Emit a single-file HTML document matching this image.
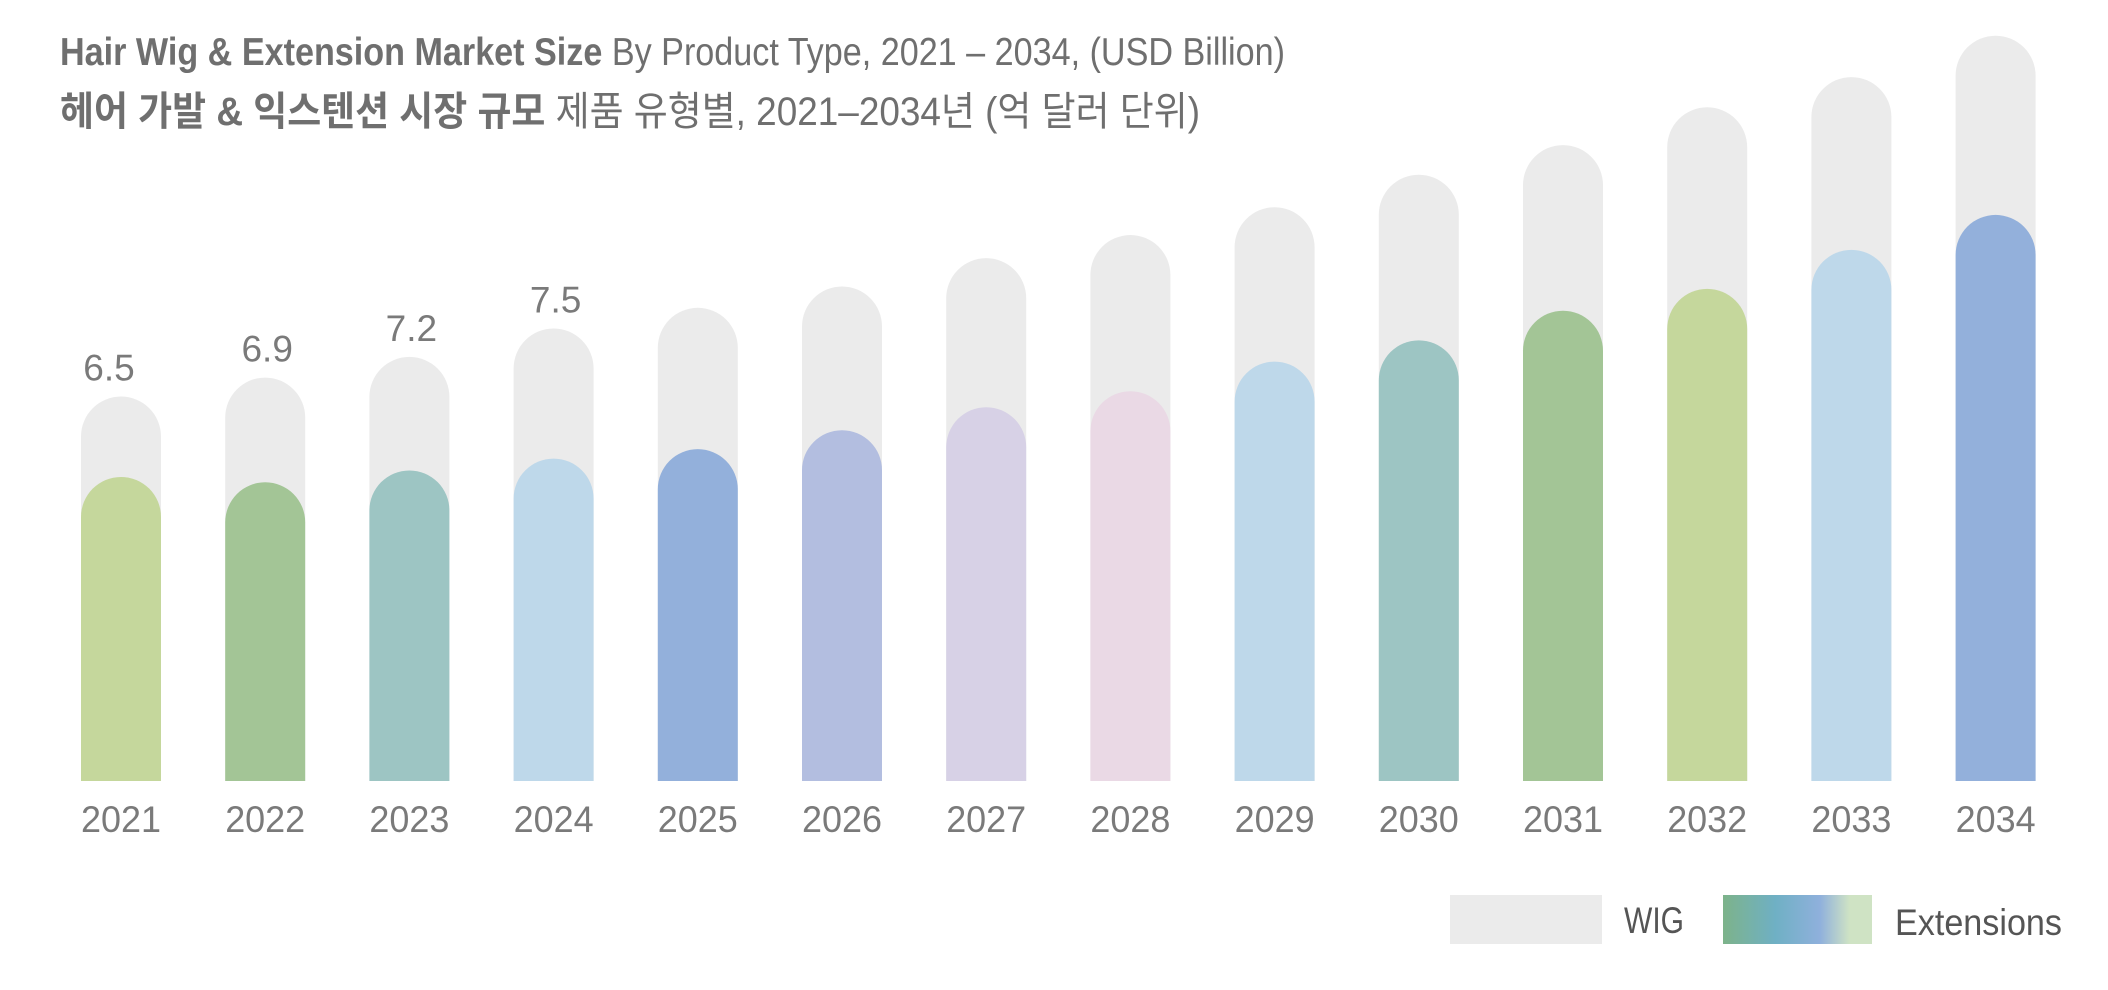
<!DOCTYPE html>
<html><head><meta charset="utf-8"><style>
html,body{margin:0;padding:0;background:#fff;}
svg{display:block;}
text{font-family:"Liberation Sans","Noto Sans CJK KR",sans-serif;}
</style></head><body>
<svg id="chart" width="2108" height="990" viewBox="0 0 2108 990" xmlns="http://www.w3.org/2000/svg">
<defs>
<linearGradient id="extGrad" x1="0" x2="1" y1="0" y2="0">
<stop offset="0" stop-color="#7db38a"/><stop offset="0.35" stop-color="#6fb0c4"/><stop offset="0.65" stop-color="#8fb0dc"/><stop offset="0.85" stop-color="#cfe3c4"/><stop offset="1" stop-color="#cfe3c4"/>
</linearGradient>
</defs>
<text x="60" y="65" font-size="39" fill="#6f6f6f" textLength="1225" lengthAdjust="spacingAndGlyphs"><tspan font-weight="bold">Hair Wig &amp; Extension Market Size</tspan> By Product Type, 2021 – 2034, (USD Billion)</text>
<text x="60" y="125" font-size="40" fill="#6f6f6f" textLength="1140" lengthAdjust="spacingAndGlyphs"><tspan font-weight="bold">헤어 가발 &amp; 익스텐션 시장 규모</tspan> 제품 유형별, 2021–2034년 (억 달러 단위)</text>
<g id="bars"></g>
<g>
<rect x="1450" y="895" width="152" height="49" fill="#ebebeb"/>
<text x="1624" y="933" font-size="37" fill="#555" textLength="60" lengthAdjust="spacingAndGlyphs">WIG</text>
<rect x="1723" y="895" width="149" height="49" fill="url(#extGrad)"/>
<text x="1895" y="935" font-size="37" fill="#555" textLength="167" lengthAdjust="spacingAndGlyphs">Extensions</text>
</g>
</svg>
<script>
const years = ["2021","2022","2023","2024","2025","2026","2027","2028","2029","2030","2031","2032","2033","2034"];
const totalValues = [6.5,6.82,7.17,7.65,8.0,8.36,8.84,9.23,9.7,10.25,10.75,11.39,11.9,12.6];
const extensionValues = [5.14,5.05,5.25,5.45,5.61,5.93,6.32,6.59,7.09,7.45,7.95,8.32,8.98,9.57];
const printedLabels = ["6.5","6.9","7.2","7.5","","","","","","","","","",""];
const extColors = ["#c5d79c","#a3c596","#9dc5c3","#bed8ea","#93b0db","#b3bee0","#d7d1e6","#ead9e5","#bed8ea","#9dc5c3","#a3c596","#c5d79c","#bed8ea","#93b0db"];

const NS = "http://www.w3.org/2000/svg";
const baseY = 781, pxPerUnit = 59.15, x0 = 121, step = 144.2, bw = 80;
const xScale = i => x0 + i * step;
const yScale = v => baseY - v * pxPerUnit;
const g = document.getElementById('bars');
function capPath(cx, top){
  const r = bw/2, l = cx - r, rr = cx + r;
  return `M${l},${baseY} L${l},${top + r} A${r},${r} 0 0 1 ${rr},${top + r} L${rr},${baseY} Z`;
}
years.forEach((yr, i) => {
  const cx = xScale(i);
  const w = document.createElementNS(NS, 'path');
  w.setAttribute('d', capPath(cx, yScale(totalValues[i])));
  w.setAttribute('fill', '#ebebeb');
  
  
  g.appendChild(w);
  const e = document.createElementNS(NS, 'path');
  e.setAttribute('d', capPath(cx, yScale(extensionValues[i])));
  e.setAttribute('fill', extColors[i]);
  
  
  g.appendChild(e);
  const t = document.createElementNS(NS, 'text');
  t.setAttribute('x', cx);
  t.setAttribute('y', 832);
  t.setAttribute('text-anchor', 'middle');
  t.setAttribute('font-size', '37');
  t.setAttribute('fill', '#7a7a7a');
  t.setAttribute('textLength', '80');
  t.setAttribute('lengthAdjust', 'spacingAndGlyphs');
  t.textContent = yr;
  
  
  g.appendChild(t);
  if (printedLabels[i]) {
    const v = document.createElementNS(NS, 'text');
    v.setAttribute('x', cx + (i === 0 ? -12 : 2));
    v.setAttribute('y', yScale(totalValues[i]) - 16);
    v.setAttribute('text-anchor', 'middle');
    v.setAttribute('font-size', '37');
    v.setAttribute('fill', '#7a7a7a');
    v.textContent = printedLabels[i];
    
    
    g.appendChild(v);
  }
});
</script>
</body></html>
